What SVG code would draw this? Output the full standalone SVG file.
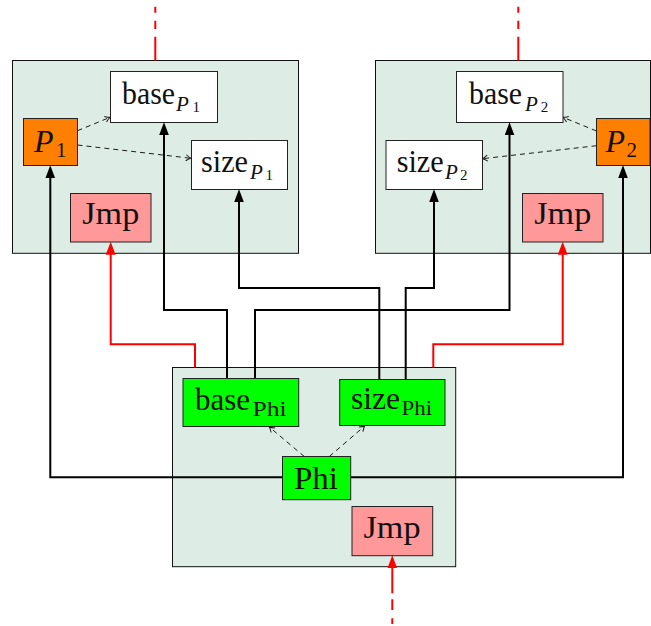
<svg xmlns="http://www.w3.org/2000/svg" width="651" height="626" viewBox="0 0 651 626">
  <style>
    .block { fill: #ddede6; stroke: #111; stroke-width: 1; }
    .box { stroke: #222; stroke-width: 1; }
    .white { fill: #ffffff; }
    .orange { fill: #ff8000; }
    .green { fill: #00ff00; }
    .pink { fill: #ff9999; }
    text { font-family: "Liberation Serif", "Times New Roman", serif; fill: #111; }
    .m { font-size: 31px; }
    .mi { font-size: 32px; font-style: italic; }
    .si { font-size: 21px; font-style: italic; }
    .s { font-size: 21px; }
    .ss { font-size: 15px; }
    .wire { fill: none; stroke: #000; stroke-width: 2; }
    .ctl { fill: none; stroke: #ff0000; stroke-width: 2; }
    .dep { fill: none; stroke: #1a1a1a; stroke-width: 1; stroke-dasharray: 5 4; }
  </style>
  <defs>
    <marker id="headK" markerUnits="userSpaceOnUse" markerWidth="13" markerHeight="10" viewBox="0 0 12 9" refX="8" refY="4.5" orient="auto">
      <path d="M0,0 L12,4.5 L0,9 Z" fill="#000"/>
    </marker>
    <marker id="headR" markerUnits="userSpaceOnUse" markerWidth="13" markerHeight="10" viewBox="0 0 12 9" refX="8" refY="4.5" orient="auto">
      <path d="M0,0 L12,4.5 L0,9 Z" fill="#ff0000"/>
    </marker>
    <marker id="to" markerUnits="userSpaceOnUse" markerWidth="8" markerHeight="8" viewBox="-1 -1 8 8" refX="5" refY="3" orient="auto">
      <path d="M0,0 Q3,2.3 5,3 Q3,3.7 0,6" fill="none" stroke="#1a1a1a" stroke-width="1"/>
    </marker>
  </defs>

  <!-- block backgrounds -->
  <g id="blocks">
    <rect class="block" x="12.5" y="60.5" width="286" height="192.8"/>
    <rect class="block" x="375.5" y="60.5" width="275" height="192.8"/>
    <rect class="block" x="172.5" y="367.5" width="283.2" height="199.2"/>
  </g>

  <!-- connectors -->
  <g id="connectors">
    <!-- incoming control edges at the tops of the two upper blocks -->
    <path class="ctl" d="M155.3,60.5 V36.7 M155.3,29 V20.7 M155.3,12.7 V6.7"/>
    <path class="ctl" d="M518.3,60.5 V36.7 M518.3,29 V20.7 M518.3,12.7 V6.7"/>
    <!-- jumps from the merge block -->
    <path class="ctl" d="M195,367.5 V344.3 H110.7 V246" marker-end="url(#headR)"/>
    <path class="ctl" d="M433.3,367.5 V344.3 H562.7 V246" marker-end="url(#headR)"/>
    <path class="ctl" d="M392.3,593.3 V559.7" marker-end="url(#headR)"/>
    <path class="ctl" d="M392.3,599.3 V610 M392.3,618.3 V624"/>
    <!-- phi operands -->
    <path class="wire" d="M282.5,477.3 H50.3 V169.5" marker-end="url(#headK)"/>
    <path class="wire" d="M350.7,477.3 H623 V169.5" marker-end="url(#headK)"/>
    <path class="wire" d="M227,378.5 V310 H164 V126.5" marker-end="url(#headK)"/>
    <path class="wire" d="M255,378.5 V310 H509.5 V126.5" marker-end="url(#headK)"/>
    <path class="wire" d="M379.3,379.5 V288 H239 V193.5" marker-end="url(#headK)"/>
    <path class="wire" d="M405.7,379.5 V288 H434 V193.5" marker-end="url(#headK)"/>
    <!-- derived values -->
    <path class="dep" d="M77.5,130.7 L110,117.3" marker-end="url(#to)"/>
    <path class="dep" d="M77.5,145 L191,158.3" marker-end="url(#to)"/>
    <path class="dep" d="M596.5,131 L563,117.3" marker-end="url(#to)"/>
    <path class="dep" d="M596.5,145.7 L482.5,158.7" marker-end="url(#to)"/>
    <path class="dep" d="M304.3,456.5 L269.3,427" marker-end="url(#to)"/>
    <path class="dep" d="M329.3,456.5 L364.7,426" marker-end="url(#to)"/>
  </g>

  <!-- left block -->
  <g id="baseP1">
    <rect class="box white" x="110.5" y="71.5" width="107" height="51"/>
    <text class="m" x="122" y="104" textLength="53" lengthAdjust="spacingAndGlyphs">base</text>
    <text class="si" x="176" y="110.5">P</text>
    <text class="ss" x="192.5" y="112">1</text>
  </g>
  <g id="sizeP1">
    <rect class="box white" x="191.5" y="140.5" width="96" height="49"/>
    <text class="m" x="201" y="172" textLength="47" lengthAdjust="spacingAndGlyphs">size</text>
    <text class="si" x="250" y="178.5">P</text>
    <text class="ss" x="265.5" y="180">1</text>
  </g>
  <g id="P1">
    <rect class="box orange" x="23.5" y="118.5" width="54" height="47"/>
    <text class="mi" x="34" y="152">P</text>
    <text class="s" x="56" y="157">1</text>
  </g>
  <g id="jmp1">
    <rect class="box pink" x="70.5" y="193.5" width="80.5" height="48.5"/>
    <text class="m" x="82.3" y="224" textLength="57" lengthAdjust="spacingAndGlyphs">Jmp</text>
  </g>

  <!-- right block -->
  <g id="baseP2">
    <rect class="box white" x="456.5" y="71.5" width="106.5" height="51"/>
    <text class="m" x="469" y="104" textLength="53" lengthAdjust="spacingAndGlyphs">base</text>
    <text class="si" x="525" y="110.5">P</text>
    <text class="ss" x="540.8" y="112">2</text>
  </g>
  <g id="sizeP2">
    <rect class="box white" x="386" y="140.5" width="96.5" height="49"/>
    <text class="m" x="396.7" y="172" textLength="47" lengthAdjust="spacingAndGlyphs">size</text>
    <text class="si" x="445" y="178.5">P</text>
    <text class="ss" x="460" y="180">2</text>
  </g>
  <g id="P2">
    <rect class="box orange" x="596.5" y="118.5" width="53.5" height="47"/>
    <text class="mi" x="605.5" y="152">P</text>
    <text class="s" x="626.5" y="157">2</text>
  </g>
  <g id="jmp2">
    <rect class="box pink" x="522.5" y="193.5" width="80.5" height="48.5"/>
    <text class="m" x="534.3" y="224" textLength="57" lengthAdjust="spacingAndGlyphs">Jmp</text>
  </g>

  <!-- merge block -->
  <g id="basePhi">
    <rect class="box green" x="183" y="378.5" width="115.7" height="48"/>
    <text class="m" x="195" y="410" textLength="55" lengthAdjust="spacingAndGlyphs">base</text>
    <text class="s" x="252.5" y="415.5" textLength="34" lengthAdjust="spacingAndGlyphs">Phi</text>
  </g>
  <g id="sizePhi">
    <rect class="box green" x="339.7" y="379.5" width="105.3" height="46"/>
    <text class="m" x="351" y="409" textLength="49" lengthAdjust="spacingAndGlyphs">size</text>
    <text class="s" x="401.5" y="414.5" textLength="30.5" lengthAdjust="spacingAndGlyphs">Phi</text>
  </g>
  <g id="phi">
    <rect class="box green" x="282.5" y="456.5" width="68.2" height="43.2"/>
    <text class="m" x="294" y="488.5" textLength="44" lengthAdjust="spacingAndGlyphs">Phi</text>
  </g>
  <g id="jmp3">
    <rect class="box pink" x="352" y="506.5" width="80.7" height="49.2"/>
    <text class="m" x="363.5" y="538" textLength="57" lengthAdjust="spacingAndGlyphs">Jmp</text>
  </g>
</svg>
